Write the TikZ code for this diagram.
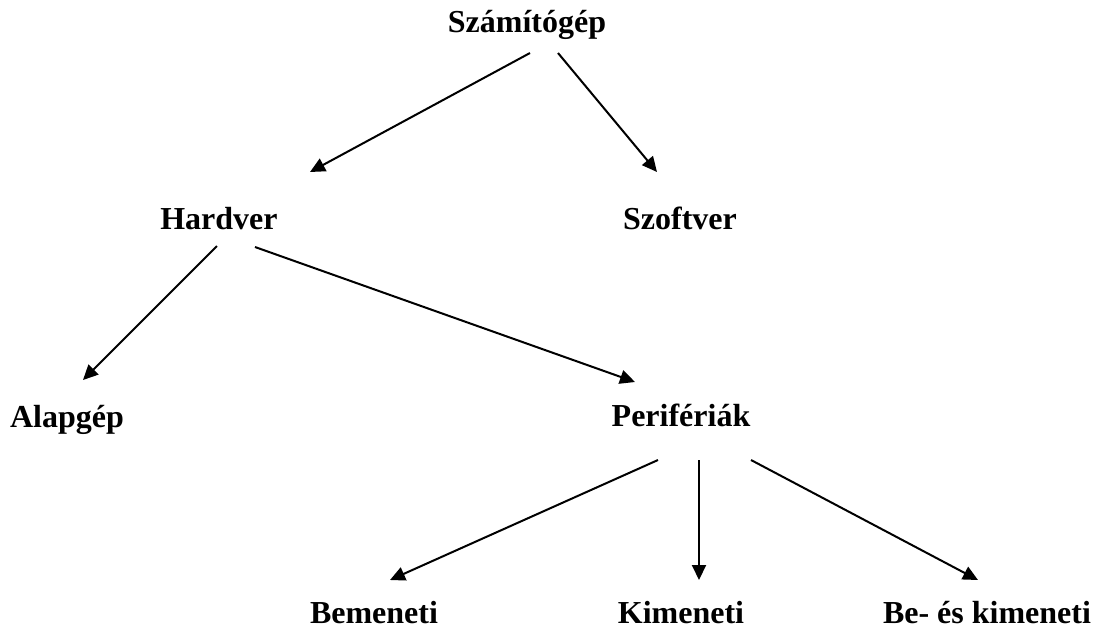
\documentclass[tikz,border=0pt]{standalone}
\usepackage{fontspec}
\setmainfont{Liberation Serif}
\usetikzlibrary{arrows.meta}
\begin{document}
\begin{tikzpicture}[x=0.5pt,y=-0.5pt,
    every node/.style={inner sep=0pt,anchor=base,font=\fontsize{16}{19}\selectfont\bfseries},
    arr/.style={line width=1pt,-{Triangle[length=7.5pt,width=7pt]}}]
      \useasboundingbox (0,0) rectangle (1098,627);
      \draw
        (527,32) node (szamitogep){Számítógép}
        (219,229) node (hardver){Hardver}
        (680,229) node (szoftver){Szoftver}
        (67,427) node (alapgep){Alapgép}
        (681,426) node (periferiak){Perifériák}
        (374,623) node (bemeneti){Bemeneti}
        (681,623) node (kimeneti){Kimeneti}
        (987,623) node (bekimeneti){Be- és kimeneti};
      \begin{scope}[arr]
        \draw ([shift={(3,21)}]szamitogep.base) to ([shift={(91,-57)}]hardver.base);
        \draw ([shift={(31,21)}]szamitogep.base) to ([shift={(-23,-57)}]szoftver.base);
        \draw ([shift={(-2,17)}]hardver.base) to ([shift={(16,-47)}]alapgep.base);
        \draw ([shift={(36,18)}]hardver.base) to ([shift={(-46,-44)}]periferiak.base);
        \draw ([shift={(-23,34)}]periferiak.base) to ([shift={(16,-43)}]bemeneti.base);
        \draw ([shift={(18,34)}]periferiak.base) to ([shift={(18,-43)}]kimeneti.base);
        \draw ([shift={(70,34)}]periferiak.base) to ([shift={(-9,-43)}]bekimeneti.base);
      \end{scope}
    \end{tikzpicture}
\end{document}
